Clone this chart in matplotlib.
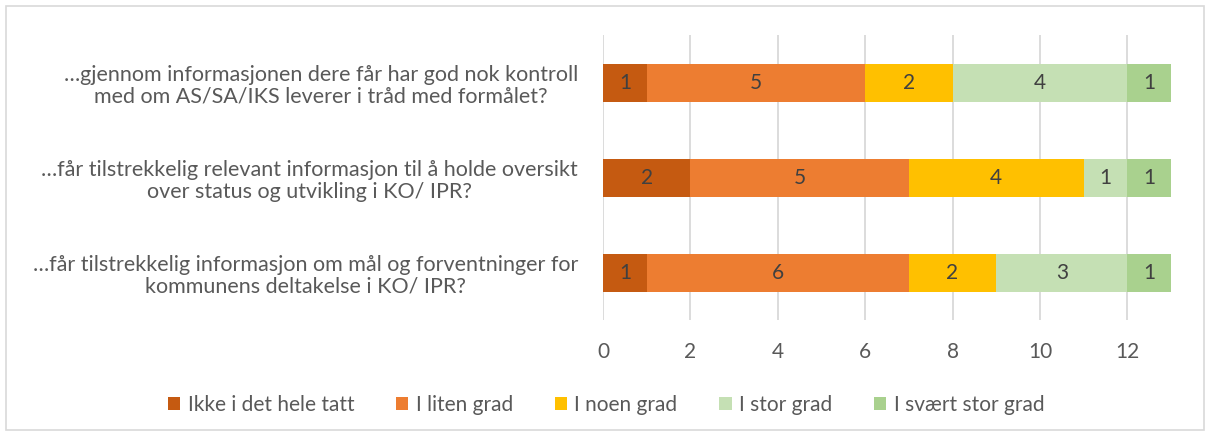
import matplotlib.pyplot as plt
from matplotlib.patches import Rectangle
from matplotlib.ticker import MultipleLocator
import numpy as np

plt.rcParams['font.family'] = ['Lato', 'DejaVu Sans']

categories = [
    "…gjennom informasjonen dere får har god nok kontroll\nmed om AS/SA/IKS leverer i tråd med formålet?",
    "…får tilstrekkelig relevant informasjon til å holde oversikt\nover status og utvikling i KO/ IPR?",
    "…får tilstrekkelig informasjon om mål og forventninger for\nkommunens deltakelse i KO/ IPR?",
]
series = ["Ikke i det hele tatt", "I liten grad", "I noen grad", "I stor grad", "I svært stor grad"]
values = [
    [1, 2, 1],
    [5, 5, 6],
    [2, 4, 2],
    [4, 1, 3],
    [1, 1, 1],
]
colors = ["#C55A11", "#ED7D31", "#FFC000", "#C5E0B4", "#A9D18E"]

fig = plt.figure(figsize=(12.1, 4.36), dpi=100)
ax = fig.add_axes([603 / 1210, 1 - 320 / 436, 568 / 1210, 285 / 436])

y = np.arange(len(categories))
left = np.zeros(len(categories))
for name, vals, col in zip(series, values, colors):
    vals = np.array(vals, dtype=float)
    bars = ax.barh(y, vals, left=left, height=0.4, color=col, label=name, zorder=3)
    for b, v in zip(bars, vals):
        ax.text(b.get_x() + b.get_width() / 2, b.get_y() + b.get_height() / 2, f"{int(v)}",
                ha='center', va='center', fontsize=15, color='#404040', zorder=4)
    left += vals

ax.set_xlim(0, 13)
ax.set_ylim(len(categories) - 0.5, -0.5)
ax.xaxis.set_major_locator(MultipleLocator(2))
ax.grid(axis='x', color='#D9D9D9', linewidth=1.3, zorder=0)
ax.set_yticks(y)
ax.set_yticklabels(categories, multialignment='center', fontsize=15.5, color='#595959',
                   linespacing=1.15)
ax.tick_params(axis='both', length=0, labelcolor='#595959')
ax.tick_params(axis='x', pad=16, labelsize=15)
ax.tick_params(axis='y', pad=18)
for s in ax.spines.values():
    s.set_visible(False)

fig.legend(loc='center', bbox_to_anchor=(606 / 1210, 1 - 405 / 436), ncol=5, frameon=False,
           fontsize=15, labelcolor='#595959', handlelength=0.6, handleheight=0.6,
           handletextpad=0.35, columnspacing=2.0)

fig.patches.append(Rectangle((6 / 1210, 6 / 436), 1198 / 1210, 424 / 436, transform=fig.transFigure,
                             fill=False, edgecolor='#D9D9D9', linewidth=1.2))

fig.savefig("out.png", dpi=100)
